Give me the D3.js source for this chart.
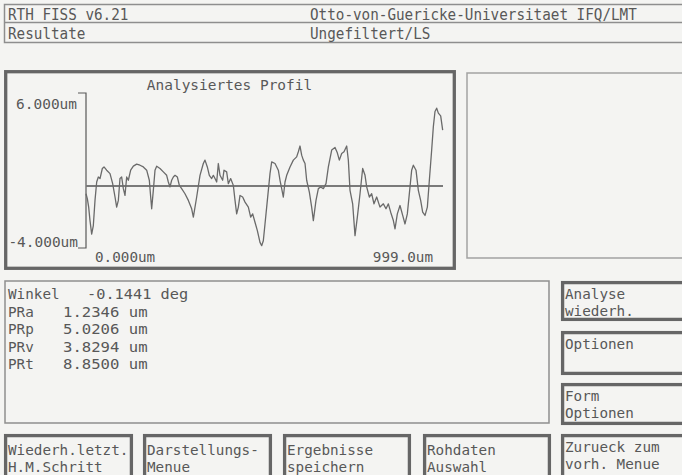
<!DOCTYPE html>
<html>
<head>
<meta charset="utf-8">
<script src="https://cdn.jsdelivr.net/npm/d3@7"></script>
<style>
  body { margin: 0; background: #f4f4f2; }
  svg { display: block; }
</style>
</head>
<body>
<div id="screen"></div>
<script>
// Profile: position along the trace (um) and height (um)
var profX = [0, 3.7, 7.5, 11.2, 15.9, 20.5, 25.2, 29.9, 34.5, 39.2, 45.7, 50.4, 57.8, 67.2, 74.6, 81.2,
  85.8, 90.5, 95.1, 99.8, 104.5, 109.1, 113.8, 118.5, 125.0, 132.5, 141.8, 151.1, 160.4, 169.8, 177.2,
  181.0, 183.8, 188.4, 193.1, 197.8, 207.1, 216.4, 225.7, 230.4, 235.1, 239.7, 244.4, 249.1, 255.6,
  261.2, 267.7, 277.0, 286.4, 295.7, 300.4, 309.7, 319.0, 328.3, 333.0, 339.5, 345.1, 351.7, 356.3,
  361.0, 365.7, 370.3, 375.0, 382.4, 386.2, 393.6, 398.3, 404.8, 412.3, 417.0, 421.6, 426.3, 431.0,
  438.4, 445.0, 454.3, 460.8, 466.4, 472.9, 479.5, 486.9, 491.6, 496.2, 500.9, 505.6, 514.9, 519.6,
  528.9, 538.2, 542.9, 547.6, 552.2, 556.9, 561.6, 570.9, 580.2, 589.5, 594.2, 598.9, 603.5, 608.2,
  612.9, 617.5, 625.0, 631.5, 636.2, 643.6, 650.2, 656.7, 664.2, 671.6, 678.2, 687.5, 696.8, 703.3,
  708.9, 715.5, 722.0, 729.5, 734.1, 738.8, 746.2, 752.8, 759.3, 766.8, 774.2, 780.8, 785.4, 792.9,
  799.4, 805.9, 813.4, 822.7, 832.1, 839.5, 846.1, 852.6, 860.1, 864.7, 871.2, 878.7, 886.2, 892.7,
  899.2, 906.7, 911.3, 916.0, 923.5, 930.0, 936.5, 942.1, 948.7, 955.2, 960.8, 967.3, 972.0, 976.6,
  981.3, 986.0, 992.5, 998.1];
var profY = [-0.50, -0.82, -1.36, -2.23, -3.10, -2.55, -0.93, 0.26, 0.58, 0.48, 1.13, 1.23, 1.02, 0.80,
  0.15, -0.71, -1.36, -0.93, 0.48, 0.58, -0.17, -0.61, 0.58, 0.37, 1.02, 1.28, 1.41, 1.34, 1.23, 1.02,
  0.37, -0.71, -1.47, -0.28, 1.02, 1.28, 1.13, 0.91, 0.69, 0.26, -0.06, 0.37, 0.58, 0.69, 0.58, 0.04,
  -0.17, -0.50, -0.93, -1.47, -2.01, -0.71, 0.69, 1.45, 1.67, 1.23, 0.69, 0.48, 0.69, 0.48, 0.26, 1.45,
  0.69, 0.37, 1.02, 0.91, 0.15, 0.48, 0.04, -0.93, -1.80, -1.36, -0.61, -0.71, -1.04, -1.36, -2.01,
  -1.80, -2.34, -2.88, -3.64, -3.85, -3.53, -2.45, -1.36, 0.80, 1.56, 1.45, 1.02, 0.37, -0.17, -0.71,
  0.26, 0.69, 1.23, 1.67, 1.88, 2.21, 2.58, 1.99, 1.67, 1.45, 0.37, -0.39, -1.36, -2.23, -0.93, -0.17,
  -0.06, -0.17, 0.15, 1.23, 2.32, 2.49, 2.14, 1.67, 2.10, 2.21, 2.58, 1.67, -0.28, -1.15, -3.20, -2.01,
  -0.50, 1.13, 0.69, -0.06, -0.71, -0.50, -1.15, -0.71, -1.36, -1.15, -1.47, -1.15, -1.69, -2.23,
  -2.77, -1.80, -1.26, -1.90, -2.45, -1.80, -0.06, 1.02, 1.34, 1.02, -0.28, -0.93, -1.69, -1.90,
  -1.36, 0.37, 2.32, 3.83, 4.81, 5.02, 4.70, 4.52, 3.61];

var yLimits = [-4, 6];
var xLimits = [0, 999];
var yLabels = ["6.000um", "-4.000um"];
var xLabels = ["0.000um", "999.0um"];
var chartTitle = "Analysiertes Profil";

var headerLeft = ["RTH FISS v6.21", "Resultate"];
var headerRight = ["Otto-von-Guericke-Universitaet IFQ/LMT", "Ungefiltert/LS"];

var resultNames = ["Winkel", "PRa", "PRp", "PRv", "PRt"];
var resultValues = ["-0.1441 deg", "1.2346 um", "5.0206 um", "3.8294 um", "8.8500 um"];

var sideButtons = [["Analyse", "wiederh."], ["Optionen"], ["Form", "Optionen"], ["Zurueck zum", "vorh. Menue"]];
var bottomButtons = [["Wiederh.letzt.", "H.M.Schritt"], ["Darstellungs-", "Menue"], ["Ergebnisse", "speichern"], ["Rohdaten", "Auswahl"]];

var width = 682, height = 475;
var ink = "#585858", frame = "#666666", thin = "#8e8e8e";
var font = "'DejaVu Sans Mono', 'Liberation Mono', monospace";
var cw = 8.6;   // width of one character cell

var svg = d3.select("#screen").append("svg")
    .attr("width", width)
    .attr("height", height)
    .style("font-family", font);

svg.append("rect").attr("width", width).attr("height", height).attr("fill", "#f4f4f2");

function label(sel, x, y, s, size, w, anchor) {
    return sel.append("text")
        .attr("x", x)
        .attr("y", y)
        .attr("font-size", size)
        .attr("textLength", s.length * w)
        .attr("lengthAdjust", "spacingAndGlyphs")
        .attr("text-anchor", anchor || "start")
        .attr("fill", ink)
        .text(s);
}

function box(x, y, w, h, col, sw) {
    svg.append("rect")
        .attr("x", x).attr("y", y).attr("width", w).attr("height", h)
        .attr("fill", "none").attr("stroke", col).attr("stroke-width", sw);
}

// header
box(4.5, 4.5, 700, 38, thin, 1.5);
svg.append("line").attr("x1", 4.5).attr("x2", 700).attr("y1", 22.5).attr("y2", 22.5)
    .attr("stroke", thin).attr("stroke-width", 1.5);
headerLeft.forEach(function (s, i) { label(svg, 8, 20 + i * 19, s, 16, cw); });
headerRight.forEach(function (s, i) { label(svg, 310, 20 + i * 19, s, 16, cw); });

// chart panel
box(5.7, 71.7, 448.6, 196.6, frame, 3.3);
box(467, 73, 240, 185, "#a2a2a2", 1.5);

var x = d3.scaleLinear().domain(xLimits).range([86, 443]);
var y = d3.scaleLinear().domain(yLimits).range([248, 93]);

label(svg, 229.5, 90, chartTitle, 13.5, 8.7, "middle");

// y bracket
svg.append("path")
    .attr("d", "M78," + y(yLimits[1]) + "H" + x(0) + "V" + y(yLimits[0]) + "H78")
    .attr("fill", "none").attr("stroke", ink).attr("stroke-width", 1.2);
label(svg, 77, y(yLimits[1]) + 15.5, yLabels[0], 13.5, 8.7, "end");
label(svg, 78, y(yLimits[0]) - 1.5, yLabels[1], 13.5, 8.7, "end");
label(svg, 95, 262, xLabels[0], 13.5, 8.6);
label(svg, 433, 262, xLabels[1], 13.5, 8.6, "end");

// mean line
svg.append("line")
    .attr("x1", x(0)).attr("x2", x(xLimits[1]))
    .attr("y1", y(0)).attr("y2", y(0))
    .attr("stroke", "#7a7a7a").attr("stroke-width", 1.8);

var profile = profX.map(function (d, i) { return [d, profY[i]]; });
var line = d3.line()
    .x(function (d) { return x(d[0]); })
    .y(function (d) { return y(d[1]); });
svg.append("path")
    .datum(profile)
    .attr("d", line)
    .attr("fill", "none")
    .attr("stroke", "#6a6a6a")
    .attr("stroke-width", 1.3)
    .attr("stroke-linejoin", "round");

// results panel
box(5, 281, 544, 142, thin, 1.5);
resultNames.forEach(function (s, i) {
    var yy = 299 + i * 17.5;
    label(svg, 8, yy, s, 14.8, cw);
    label(svg, i == 0 ? 87 : 63, yy, resultValues[i], 14.8, i == 0 ? 9.2 : 9.4);
});

// side buttons
var sideTops = [281, 331, 383, 434], sideBottoms = [321, 375, 425, 490];
sideButtons.forEach(function (b, i) {
    box(562.6, sideTops[i] + 1.6, 140, sideBottoms[i] - sideTops[i] - 3.2, frame, 3.3);
    b.forEach(function (s, j) { label(svg, 565, sideTops[i] + 18 + j * 17, s, 14, cw); });
});

// bottom buttons
var bottomLeft = [4, 143, 283, 423], bottomRight = [133, 272, 411, 551];
bottomButtons.forEach(function (b, i) {
    box(bottomLeft[i] + 1.6, 435.6, bottomRight[i] - bottomLeft[i] - 3.2, 60, frame, 3.3);
    b.forEach(function (s, j) { label(svg, bottomLeft[i] + 4, 455 + j * 16.5, s, 14, cw); });
});
</script>
</body>
</html>
